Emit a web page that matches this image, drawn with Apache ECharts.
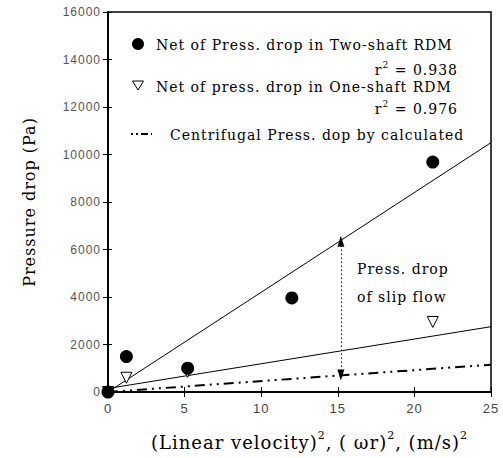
<!DOCTYPE html>
<html>
<head>
<meta charset="utf-8">
<script src="https://cdn.jsdelivr.net/npm/echarts@6/dist/echarts.min.js"></script>
<style>
html, body { margin: 0; padding: 0; background: #fff; }
#main { width: 503px; height: 458px; }
/* the scan has loose, typewriter-like spacing */
#main text { letter-spacing: 1px; }
</style>
</head>
<body>
<div id="main"></div>
<script>
var twoShaftX = [0, 1.2, 5.2, 12, 21.2]
var twoShaftY = [0, 1490, 1000, 3960, 9680]
var oneShaftX = [0, 1.2, 5.2, 21.2]
var oneShaftY = [0, 600, 850, 2950]
// fitted lines, given by their end points
var fitX = [0, 25]
var twoFitY = [0, 10500]
var oneFitY = [150, 2750]
var centrifugalY = [0, 1150]
// slip flow arrow
var slipX = 15.2
var slipFrom = 720
var slipTo = 6350
var r2Two = '0.938'
var r2One = '0.976'

function pairs(xs, ys) {
  return xs.map(function(x, i) { return [x, ys[i]] })
}

// measure text with the same spacing as the css above, so rich text lines up
var measureCtx = document.createElement('canvas').getContext('2d')
measureCtx.letterSpacing = '1px'
echarts.setPlatformAPI({
  measureText: function(text, font) {
    measureCtx.font = font || '12px sans-serif'
    return measureCtx.measureText(text)
  }
})

var serif = 'DejaVu Serif'
var legendFont = '14px "DejaVu Serif"'
// r^2 line: small raised 2
var r2Rich = {
  s: { fontSize: 9, fontFamily: serif, lineHeight: 9, padding: [0, 0, 10, 0] }
}

var myChart = echarts.init(document.getElementById('main'), null, { renderer: 'svg' })

var option = {
  backgroundColor: '#fff',
  animation: false,
  grid: {
    left: 108,
    right: 12,
    top: 12,
    bottom: 66,
    show: true,
    borderColor: '#000',
    borderWidth: 1.5
  },
  xAxis: [{
    type: 'value',
    min: 0,
    max: 25,
    interval: 5,
    name: '(Linear velocity){s|2}, ( \u03c9r){s|2}, (m/s){s|2}',
    nameLocation: 'middle',
    nameGap: 37,
    nameTextStyle: {
      fontFamily: serif,
      fontSize: 18,
      color: '#000',
      padding: [0, 0, 0, 20],
      rich: {
        s: { fontSize: 11, fontFamily: serif, color: '#000', padding: [0, 0, 14, 0] }
      }
    },
    axisLine: { lineStyle: { color: '#000', width: 1.5 } },
    axisTick: { inside: true, length: 5, lineStyle: { color: '#000' } },
    axisLabel: { fontFamily: 'Liberation Sans', fontSize: 13, color: '#444', margin: 9 },
    splitLine: { show: false }
  }, {
    type: 'value',
    position: 'top',
    min: 0,
    max: 25,
    interval: 5,
    axisLine: { lineStyle: { color: '#000', width: 1.5 } },
    axisTick: { inside: true, length: 5, lineStyle: { color: '#000' } },
    axisLabel: { show: false },
    splitLine: { show: false }
  }],
  yAxis: [{
    type: 'value',
    min: 0,
    max: 16000,
    interval: 2000,
    name: 'Pressure drop (Pa)',
    nameLocation: 'middle',
    nameGap: 70,
    nameTextStyle: { fontFamily: serif, fontSize: 16, color: '#000' },
    axisLine: { lineStyle: { color: '#000', width: 1.5 } },
    axisTick: { inside: true, length: 4, lineStyle: { color: '#000' } },
    axisLabel: {
      fontFamily: 'Liberation Sans',
      fontSize: 12,
      color: '#555',
      margin: 7,
      formatter: function(v) { return String(v) }
    },
    splitLine: { show: false }
  }, {
    type: 'value',
    position: 'right',
    min: 0,
    max: 16000,
    interval: 2000,
    axisLine: { lineStyle: { color: '#000', width: 1.5 } },
    axisTick: { inside: true, length: 5, lineStyle: { color: '#000' } },
    axisLabel: { show: false },
    splitLine: { show: false }
  }],
  series: [{
    name: 'Two-shaft fit',
    type: 'line',
    data: pairs(fitX, twoFitY),
    symbol: 'none',
    lineStyle: { color: '#000', width: 1 },
    z: 2
  }, {
    name: 'One-shaft fit',
    type: 'line',
    data: pairs(fitX, oneFitY),
    symbol: 'none',
    lineStyle: { color: '#000', width: 1 },
    z: 2
  }, {
    name: 'Centrifugal Press. dop by calculated',
    type: 'line',
    data: pairs(fitX, centrifugalY),
    symbol: 'none',
    lineStyle: { color: '#000', width: 2, type: [10, 5, 2, 5, 2, 5] },
    markLine: {
      silent: true,
      symbol: ['triangle', 'triangle'],
      symbolSize: [7, 11],
      label: { show: false },
      lineStyle: { color: '#000', width: 1, type: [1.5, 2.5] },
      data: [[{ coord: [slipX, slipFrom] }, { coord: [slipX, slipTo] }]]
    },
    z: 2
  }, {
    name: 'Net of press. drop in One-shaft RDM',
    type: 'scatter',
    data: pairs(oneShaftX, oneShaftY),
    symbol: 'triangle',
    symbolRotate: 180,
    symbolSize: 11,
    itemStyle: { color: '#fff', borderColor: '#000', borderWidth: 1, opacity: 1 },
    z: 3
  }, {
    name: 'Net of Press. drop in Two-shaft RDM',
    type: 'scatter',
    data: pairs(twoShaftX, twoShaftY),
    symbol: 'circle',
    symbolSize: 13,
    itemStyle: { color: '#000', opacity: 1 },
    z: 4
  }],
  graphic: [
    { type: 'circle', shape: { cx: 138, cy: 44, r: 6 }, style: { fill: '#000' } },
    { type: 'text', left: 156, top: 37, style: { text: 'Net of Press. drop in Two-shaft RDM', font: legendFont, lineHeight: 14, fill: '#000' } },
    { type: 'text', right: 45, top: 60, style: {
      text: 'r{s|2} = ' + r2Two, font: legendFont, lineHeight: 14, fill: '#000', rich: r2Rich
    } },
    { type: 'polygon', shape: { points: [[132.5, 81], [143.5, 81], [138, 90]] }, style: { fill: '#fff', stroke: '#000', lineWidth: 1 } },
    { type: 'text', left: 156, top: 79, style: { text: 'Net of press. drop in One-shaft RDM', font: legendFont, lineHeight: 14, fill: '#000' } },
    { type: 'text', right: 45, top: 99, style: {
      text: 'r{s|2} = ' + r2One, font: legendFont, lineHeight: 14, fill: '#000', rich: r2Rich
    } },
    { type: 'line', shape: { x1: 131, y1: 134, x2: 152, y2: 134 }, style: { stroke: '#000', lineWidth: 2, lineDash: [2, 3, 2, 3, 7, 3] } },
    { type: 'text', left: 170, top: 127, style: { text: 'Centrifugal Press. dop by calculated', font: legendFont, lineHeight: 14, fill: '#000' } },
    { type: 'text', left: 357, top: 255, style: { text: 'Press. drop\nof slip flow', font: legendFont, fill: '#000', lineHeight: 28 } }
  ]
}

myChart.setOption(option)
window.addEventListener('resize', function() {
  myChart.resize()
})
</script>
</body>
</html>
